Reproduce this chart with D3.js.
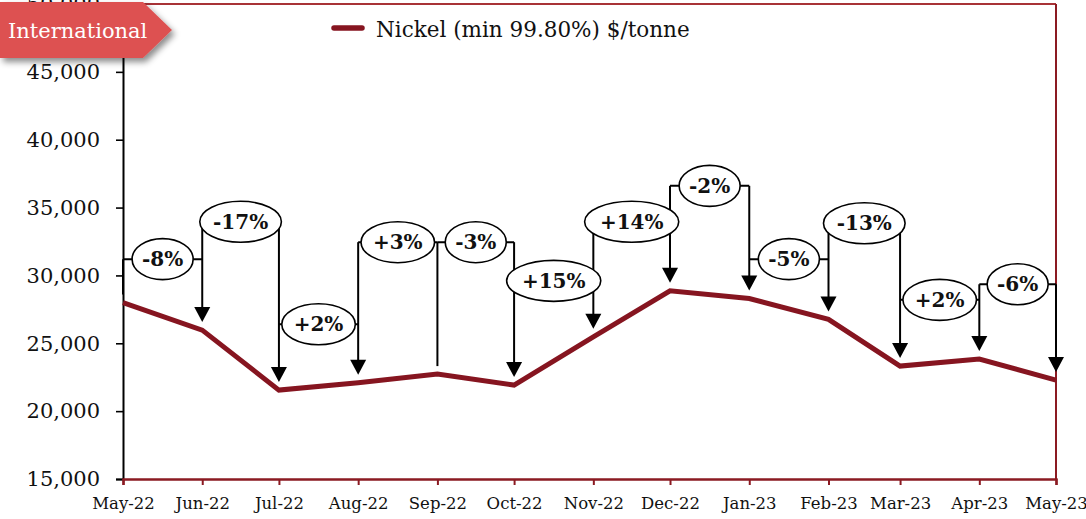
<!DOCTYPE html>
<html>
<head>
<meta charset="utf-8">
<script src="https://cdn.jsdelivr.net/npm/d3@7/dist/d3.min.js"></script>
<style>
  html, body { margin: 0; padding: 0; background: #ffffff; }
  svg { display: block; }
  text { font-family: "DejaVu Serif", Georgia, serif; }
</style>
</head>
<body>
<svg id="chart" width="1086" height="519"></svg>
<script>
// ---------- data ----------
const months = ["May-22","Jun-22","Jul-22","Aug-22","Sep-22","Oct-22","Nov-22","Dec-22","Jan-23","Feb-23","Mar-23","Apr-23","May-23"];
const nickelPrice = [28000, 25970, 21550, 22090, 22730, 21920, 25480, 28870, 28300, 26760, 23320, 23840, 22290];
const yTicks = [15000, 20000, 25000, 30000, 35000, 40000, 45000, 50000];
const changeLabels = ["-8%","-17%","+2%","+3%","-3%","+15%","+14%","-2%","-5%","-13%","+2%","-6%"];
// level (in $/tonne) at which each change callout sits
const changeLevels = [31200, 33950, 26400, 32450, 32450, 29600, 33950, 36600, 31200, 33850, 28200, 29350];
// whether the pointer at each month ends with an arrow head
const arrowAtMonth = [false, true, true, true, false, true, true, true, true, true, true, true, true];
const seriesName = "Nickel (min 99.80%) $/tonne";
const badgeTitle = "International";

(function () {
// ---------- layout ----------
const svg = d3.select("#chart");
const parse = d3.timeParse("%b-%y");
const dates = months.map(parse);
const pl = 123, pr = 1056, pt = 4, pb = 479;
const x = d3.scaleTime().domain([dates[0], dates[dates.length - 1]]).range([pl, pr]);
const y = d3.scaleLinear().domain([15000, 50000]).range([pb, pt]);
const red = "#8b1a22";
const lineRed = "#861520";

// frame (top and right, red)
svg.append("line").attr("x1", pl).attr("x2", pr).attr("y1", pt).attr("y2", pt)
  .attr("stroke", "#a83236").attr("stroke-width", 2);
svg.append("line").attr("x1", pr).attr("x2", pr).attr("y1", pt).attr("y2", pb)
  .attr("stroke", red).attr("stroke-width", 2);

// y axis
const yAxis = d3.axisLeft(y).tickValues(yTicks).tickSize(7).tickPadding(16)
  .tickFormat(d3.format(","));
const gy = svg.append("g").attr("transform", `translate(${pl},0)`).call(yAxis);
gy.select(".domain").attr("stroke", "#000").attr("stroke-width", 2);
gy.selectAll(".tick line").attr("stroke", "#000").attr("stroke-width", 1.6);
gy.selectAll(".tick text").attr("font-size", 21).attr("fill", "#111")
  .style("font-family", '"DejaVu Serif", serif');

// x axis
const xAxis = d3.axisBottom(x).tickValues(dates).tickSize(6).tickPadding(12)
  .tickFormat(d3.timeFormat("%b-%y"));
const gx = svg.append("g").attr("transform", `translate(0,${pb})`).call(xAxis);
gx.select(".domain").attr("stroke", red).attr("stroke-width", 2.4);
gx.selectAll(".tick line").attr("stroke", red).attr("stroke-width", 2);
gx.selectAll(".tick text").attr("font-size", 16.5).attr("fill", "#111")
  .style("font-family", '"DejaVu Serif", serif');

// data line
const line = d3.line().x((d, i) => x(dates[i])).y(d => y(d));
svg.append("path").datum(nickelPrice).attr("d", line)
  .attr("fill", "none").attr("stroke", lineRed).attr("stroke-width", 5)
  .attr("stroke-linejoin", "miter");

// ---------- change callouts ----------
const ann = svg.append("g");
const tipGap = 8, headH = 15, headW = 16;
dates.forEach((d, j) => {
  const lv = [];
  if (j > 0) lv.push(changeLevels[j - 1]);
  if (j < changeLevels.length) lv.push(changeLevels[j]);
  const yTop = y(d3.max(lv));
  const yTip = y(nickelPrice[j]) - tipGap;
  const yEnd = arrowAtMonth[j] ? yTip - headH + 1 : yTip;
  ann.append("line").attr("x1", x(d)).attr("x2", x(d)).attr("y1", yTop).attr("y2", yEnd)
    .attr("stroke", "#000").attr("stroke-width", 2);
});
changeLevels.forEach((v, i) => {
  ann.append("line").attr("x1", x(dates[i])).attr("x2", x(dates[i + 1]))
    .attr("y1", y(v)).attr("y2", y(v)).attr("stroke", "#000").attr("stroke-width", 2);
});
dates.forEach((d, j) => {
  if (!arrowAtMonth[j]) return;
  const yTip = y(nickelPrice[j]) - tipGap;
  const cx = x(d);
  ann.append("path")
    .attr("d", `M${cx - headW / 2},${yTip - headH} L${cx + headW / 2},${yTip - headH} L${cx},${yTip} Z`)
    .attr("fill", "#000");
});
changeLabels.forEach((lab, i) => {
  const cx = (x(dates[i]) + x(dates[i + 1])) / 2;
  const cy = y(changeLevels[i]);
  const g = ann.append("g");
  const el = g.append("ellipse").attr("cx", cx).attr("cy", cy).attr("ry", 20.5)
    .attr("fill", "#fff").attr("stroke", "#000").attr("stroke-width", 1.6);
  const t = g.append("text").attr("x", cx).attr("y", cy).attr("dy", "0.36em")
    .attr("text-anchor", "middle").attr("font-size", 20).attr("font-weight", "bold")
    .attr("fill", "#111").text(lab);
  const w = t.node().getComputedTextLength();
  el.attr("rx", w * 0.74);
});

// ---------- legend ----------
svg.append("line").attr("x1", 334).attr("x2", 362).attr("y1", 28).attr("y2", 28)
  .attr("stroke", lineRed).attr("stroke-width", 5.5).attr("stroke-linecap", "round");
svg.append("text").attr("x", 376).attr("y", 37).attr("font-size", 21.5).attr("fill", "#111")
  .text(seriesName);

// ---------- badge ----------
const defs = svg.append("defs");
const f = defs.append("filter").attr("id", "shadow").attr("x", "-20%").attr("y", "-20%")
  .attr("width", "150%").attr("height", "160%");
f.append("feDropShadow").attr("dx", 3).attr("dy", 4).attr("stdDeviation", 3)
  .attr("flood-color", "#000").attr("flood-opacity", 0.45);
svg.append("path").attr("d", "M0,2 H143 L172,30 L143,58 H0 Z")
  .attr("fill", "#dd5151").attr("filter", "url(#shadow)");
svg.append("text").attr("x", 8).attr("y", 38).attr("font-size", 21).attr("fill", "#fff")
  .text(badgeTitle);
})();
</script>
</body>
</html>
